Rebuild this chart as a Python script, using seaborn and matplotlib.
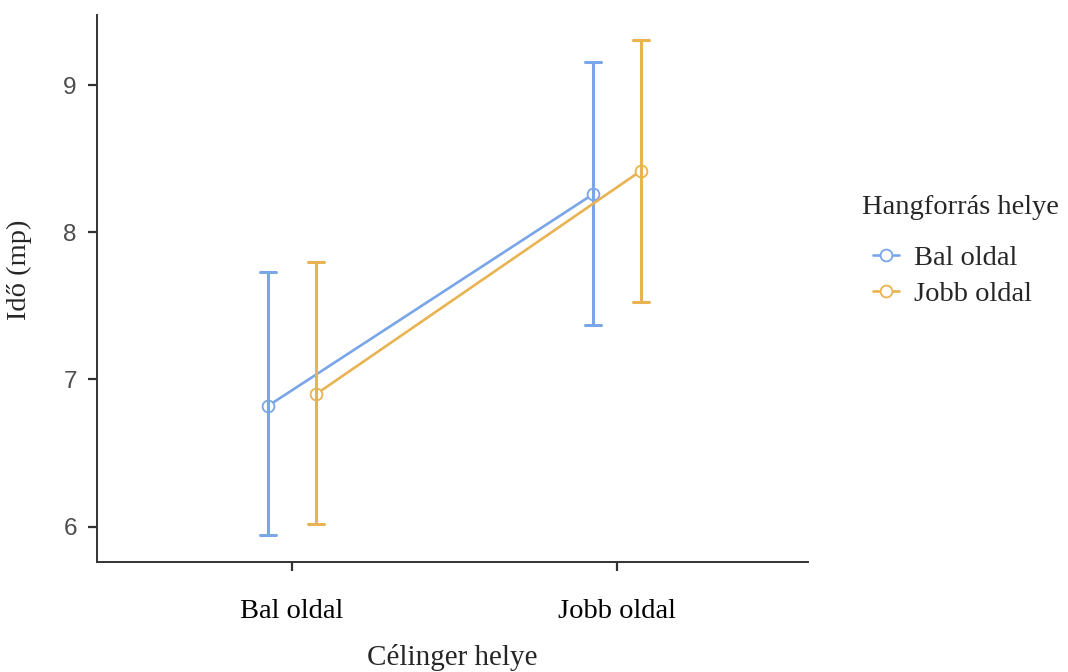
import pandas as pd
import matplotlib
matplotlib.use("Agg")
from matplotlib import pyplot
from matplotlib.lines import Line2D
import seaborn as sns

# Célinger helye (x) and Hangforrás helye (hue)
target_levels = ["Bal oldal", "Jobb oldal"]
source_levels = ["Bal oldal", "Jobb oldal"]

# means and 95% CI bounds, one list per sound source, ordered by target side
mean_src_bal = [6.82, 8.26]
low_src_bal = [5.94, 7.37]
high_src_bal = [7.73, 9.16]

mean_src_jobb = [6.90, 8.42]
low_src_jobb = [6.02, 7.53]
high_src_jobb = [7.80, 9.31]

palette = {"Bal oldal": "#79a5e9", "Jobb oldal": "#e8b350"}

# long table: low / mean / high per cell -> median gives mean, min/max give CI
rows = []
for src, means, lows, highs in [
		("Bal oldal", mean_src_bal, low_src_bal, high_src_bal),
		("Jobb oldal", mean_src_jobb, low_src_jobb, high_src_jobb)]:
	for tgt, m, lo, hi in zip(target_levels, means, lows, highs):
		for v in (lo, m, hi):
			rows.append({"Célinger helye": tgt, "Hangforrás helye": src, "Idő": v})
df = pd.DataFrame(rows)

sns.set_theme(style="ticks")
pyplot.rcParams['font.family'] = ['Liberation Serif', 'DejaVu Serif']

fig = pyplot.figure(figsize=(10.68, 6.72), dpi=100)
ax = fig.add_axes([0.0908, 0.164, 0.666, 0.814])

sns.pointplot(
	data=df, x="Célinger helye", y="Idő", hue="Hangforrás helye",
	order=target_levels, hue_order=source_levels, palette=palette,
	estimator="median", errorbar=lambda v: (v.min(), v.max()),
	dodge=0.148, capsize=0.05, linewidth=1.9, markersize=8.5,
	markerfacecolor="white", markeredgewidth=1.3,
	err_kws={"linewidth": 2.2}, legend=False, ax=ax)

for line in ax.lines:
	line.set_markerfacecolor("white")

ax.set_xlim(-0.6, 1.588)
ax.set_ylim(5.76, 9.48)
ax.set_yticks([6, 7, 8, 9])
sns.despine(ax=ax)
for side in ["left", "bottom"]:
	ax.spines[side].set_color("#333333")
	ax.spines[side].set_linewidth(1.4)

ax.tick_params(axis="both", colors="#333333", width=1.6, length=6.5)
ax.tick_params(axis="x", labelsize=20.5, labelcolor="black", pad=20)
ax.tick_params(axis="y", labelsize=17.5, labelcolor="#4d4d4d", pad=8)
for lab in ax.get_yticklabels():
	lab.set_family(["Liberation Sans", "DejaVu Sans"])

ax.set_xlabel("Célinger helye", fontsize=21, labelpad=15)
ax.set_ylabel("Idő (mp)", fontsize=20.5)
ax.yaxis.set_label_coords(-0.092, 0.534)

# legend title drawn separately so the gap above the keys matches
fig.text(862 / 1068, 1 - 207 / 672, "Hangforrás helye", fontsize=20.5,
		 ha="left", va="center")
handles = [Line2D([], [], color=palette[s], linewidth=1.9, marker="o", markersize=8.5,
				  markerfacecolor="white", markeredgewidth=1.3) for s in source_levels]
leg = fig.legend(handles, source_levels, loc="center left",
				 bbox_to_anchor=(873 / 1068, 1 - 276 / 672), frameon=False,
				 fontsize=20.5, handlelength=0.9, handletextpad=0.55,
				 labelspacing=0.33, borderpad=0, borderaxespad=0)

fig.savefig("out.png", dpi=100)
